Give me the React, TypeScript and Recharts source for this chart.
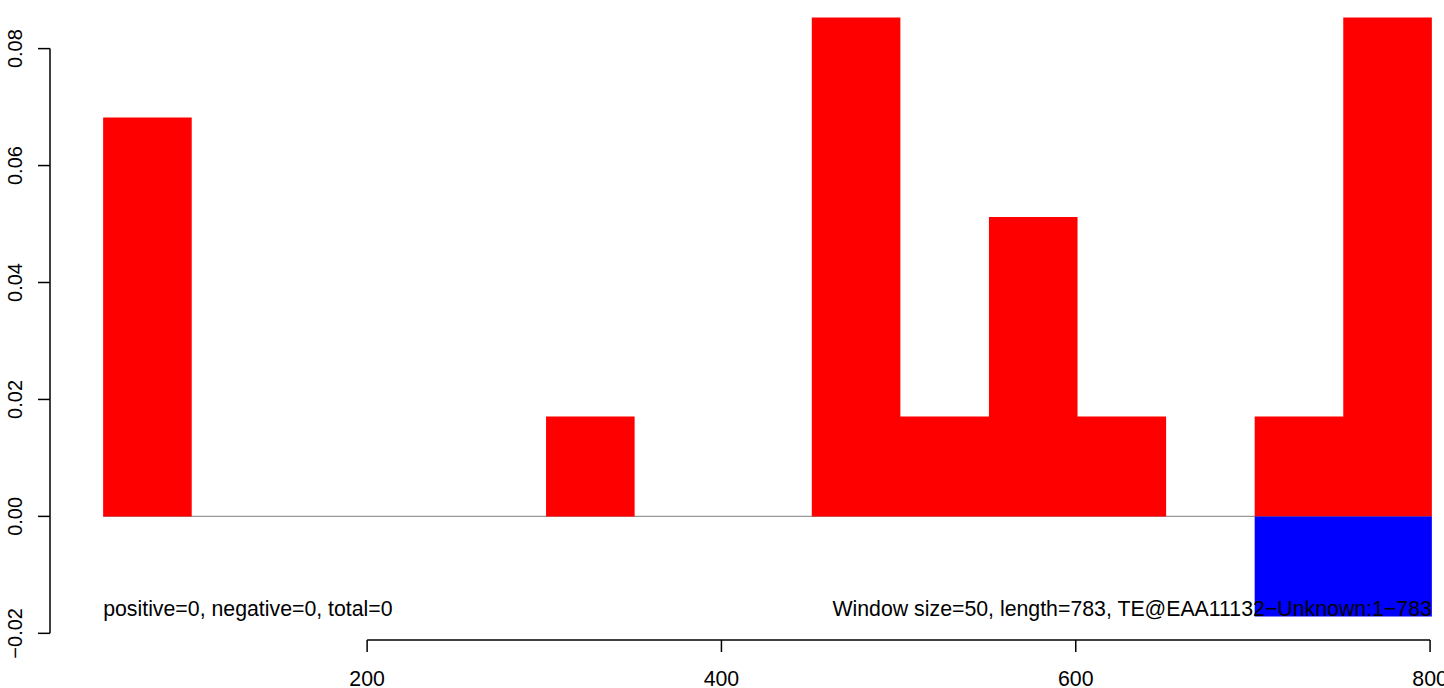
import React from 'react';
import { ComposedChart, Area, XAxis, YAxis, ReferenceLine, ReferenceDot } from 'recharts';

const windowStarts = [51, 101, 151, 201, 251, 301, 351, 401, 451, 501, 551, 601, 651, 701, 751];
const windowEnd = 801;
const positiveValues = [0.0682, 0, 0, 0, 0, 0.0171, 0, 0, 0.0853, 0.0171, 0.0512, 0.0171, 0, 0.0171, 0.0853];
const negativeValues = [0, 0, 0, 0, 0, 0, 0, 0, 0, 0, 0, 0, 0, -0.0171, -0.0171];
const xTicks = [200, 400, 600, 800];
const yTicks = [-0.02, 0, 0.02, 0.04, 0.06, 0.08];
const xDomain: [number, number] = [21, 831];
const yDomain: [number, number] = [-0.02114, 0.08934];
const leftNote = 'positive=0, negative=0, total=0';
const rightNote = 'Window size=50, length=783, TE@EAA11132\u2212Unknown:1\u2212783';

const FONT = '"Liberation Sans", Arial, Helvetica, sans-serif';
const FS = 21.3;
const FS_Y = 20;

const stepData = (vals: number[]) =>
  windowStarts
    .map((x, i) => ({ x, y: vals[i] }))
    .concat([{ x: windowEnd, y: vals[vals.length - 1] }]);

const posData = stepData(positiveValues);
const negData = stepData(negativeValues);
const zeroLine = [
  { x: windowStarts[0], y: 0 },
  { x: windowEnd, y: 0 },
];
const noteY = Math.min(...negativeValues);

const fmtY = (v: number) => (v < 0 ? '\u2212' : '') + Math.abs(v).toFixed(2);

const XTick = (props: any) => {
  const { x, y, payload } = props;
  return (
    <text x={x} y={y + 32} textAnchor="middle" fontSize={FS} fontFamily={FONT} fill="#000">
      {String(payload.value)}
    </text>
  );
};

const YTick = (props: any) => {
  const { x, y, payload } = props;
  const tx = x - 14;
  return (
    <text
      x={tx}
      y={y}
      transform={`rotate(-90, ${tx}, ${y})`}
      textAnchor="middle"
      fontSize={FS_Y}
      fontFamily={FONT}
      fill="#000"
    >
      {fmtY(payload.value)}
    </text>
  );
};

const noteShape = (text: string, anchor: 'start' | 'end') => (p: any) => (
  <text x={p.cx} y={p.cy} textAnchor={anchor} fontSize={FS} fontFamily={FONT} fill="#000">
    {text}
  </text>
);

export default function App() {
  return (
    <div
      style={{
        position: 'absolute',
        left: 0,
        top: 0,
        width: 1444,
        height: 688,
        overflow: 'hidden',
        background: '#fff',
      }}
    >
      <div style={{ position: 'absolute', left: 0, top: -6 }}>
        <ComposedChart width={1500} height={700} margin={{ top: 0, right: 15, bottom: 0, left: 0 }}>
          <XAxis
            type="number"
            dataKey="x"
            domain={xDomain}
            allowDataOverflow
            ticks={xTicks}
            axisLine={false}
            tickLine={{ stroke: '#000', strokeWidth: 1.5 }}
            stroke="#000"
            tickSize={12}
            height={54}
            tick={<XTick />}
            interval={0}
          />
          <YAxis
            type="number"
            dataKey="y"
            domain={yDomain}
            allowDataOverflow
            ticks={yTicks}
            axisLine={false}
            tickLine={{ stroke: '#000', strokeWidth: 1.5 }}
            stroke="#000"
            tickSize={12}
            width={50}
            tick={<YTick />}
            interval={0}
          />
          <Area
            data={zeroLine}
            dataKey="y"
            type="linear"
            stroke="#999999"
            strokeWidth={1.2}
            fill="none"
            dot={false}
            activeDot={false}
            isAnimationActive={false}
          />
          <Area
            data={posData}
            dataKey="y"
            type="stepAfter"
            baseValue={0}
            stroke="none"
            fill="#ff0000"
            fillOpacity={1}
            dot={false}
            activeDot={false}
            isAnimationActive={false}
          />
          <Area
            data={negData}
            dataKey="y"
            type="stepAfter"
            baseValue={0}
            stroke="none"
            fill="#0000ff"
            fillOpacity={1}
            dot={false}
            activeDot={false}
            isAnimationActive={false}
          />
          <ReferenceLine
            segment={[
              { x: xTicks[0], y: yDomain[0] },
              { x: xTicks[xTicks.length - 1], y: yDomain[0] },
            ]}
            stroke="#000"
            strokeWidth={1.5}
            ifOverflow="visible"
          />
          <ReferenceLine
            segment={[
              { x: xDomain[0], y: yTicks[0] },
              { x: xDomain[0], y: yTicks[yTicks.length - 1] },
            ]}
            stroke="#000"
            strokeWidth={1.5}
            ifOverflow="visible"
          />
          <ReferenceDot
            x={windowStarts[0]}
            y={noteY}
            r={0}
            ifOverflow="visible"
            shape={noteShape(leftNote, 'start')}
          />
          <ReferenceDot
            x={windowEnd}
            y={noteY}
            r={0}
            ifOverflow="visible"
            shape={noteShape(rightNote, 'end')}
          />
        </ComposedChart>
      </div>
    </div>
  );
}
